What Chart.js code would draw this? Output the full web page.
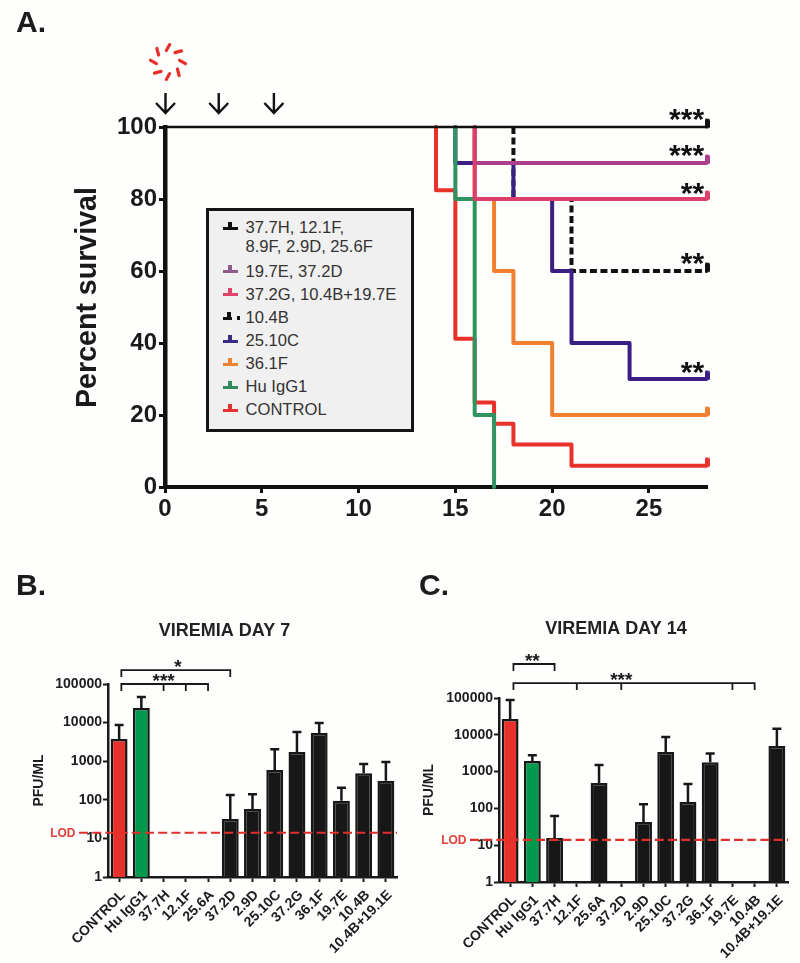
<!DOCTYPE html>
<html>
<head>
<meta charset="utf-8">
<script src="https://cdn.jsdelivr.net/npm/chart.js@4"></script>
<style>
html,body{margin:0;padding:0;background:#fefefc;}
body{width:800px;height:963px;position:relative;overflow:hidden;font-family:"Liberation Sans",Arial,sans-serif;}
canvas{position:absolute;display:block;}
.letter{position:absolute;font:bold 30px/30px "Liberation Sans",Arial,sans-serif;color:#1c1c1c;}
#legend{position:absolute;left:206px;top:208px;width:202px;height:218px;border:3.5px solid #151515;background:#f1f0f1;color:#333;font-size:16.6px;}
#legend .row{position:absolute;left:36.5px;line-height:19px;white-space:nowrap;}
#legend .bar{position:absolute;left:13.5px;width:15px;height:3px;}
#legend .nub{position:absolute;left:19px;width:4px;height:5px;}
#legend .dot{position:absolute;left:28px;width:2.5px;height:3.5px;}
</style>
</head>
<body>
<canvas id="panelA" width="800" height="545" style="left:0;top:0"></canvas>
<canvas id="panelB" width="400" height="363" style="left:0;top:600px"></canvas>
<canvas id="panelC" width="400" height="363" style="left:400px;top:600px"></canvas>
<div class="letter" style="left:16px;top:7px">A.</div>
<div class="letter" style="left:16px;top:570px">B.</div>
<div class="letter" style="left:419px;top:570px">C.</div>
<div id="legend"></div>
<script>
// ---------- Panel A data: [day, percent survival] ----------
const survAllProtected = [[0,100],[28,100]];
const surv197E = [[16,100],[16,90],[28,90]];
const surv372G = [[16,100],[16,80],[28,80]];
const surv104B = [[18,100],[18,80],[21,80],[21,60],[28,60]];
const surv2510C = [[15,100],[15,90],[18,90],[18,80],[20,80],[20,60],[21,60],[21,40],[24,40],[24,30],[28,30]];
const surv361F = [[16,100],[16,80],[17,80],[17,60],[18,60],[18,40],[20,40],[20,20],[28,20]];
const survHuIgG1 = [[15,100],[15,80],[16,80],[16,20],[17,20],[17,0]];
const survControl = [[14,100],[14,82.4],[15,82.4],[15,41.2],[16,41.2],[16,23.5],[17,23.5],[17,17.6],[18,17.6],[18,11.8],[21,11.8],[21,5.9],[28,5.9]];
const treatmentDays = [0, 2.75, 5.6];
const survivalStars = [["***",100],["***",90],["**",79.4],["**",60],["**",29.7]];
const survivalTicksY = [0,20,40,60,80,100];

const legendLabels = [["37.7H, 12.1F,","8.9F, 2.9D, 25.6F"],["19.7E, 37.2D"],["37.2G, 10.4B+19.7E"],["10.4B"],["25.10C"],["36.1F"],["Hu IgG1"],["CONTROL"]];
const legendColors = ["#111111","#8f5a8c","#e0446b","#111111","#3b2a85","#ee8232","#2e8b5c","#e53030"];

// ---------- Panels B / C data ----------
const categoriesB = ["CONTROL","Hu IgG1","37.7H","12.1F","25.6A","37.2D","2.9D","25.10C","37.2G","36.1F","19.7E","10.4B","10.4B+19.1E"];
const valuesB = [3760,23900,null,null,null,32,58,590,1730,5400,94,490,310];
const errorTopB = [8700,46000,null,null,null,133,140,2050,5700,9800,205,850,950];
const categoriesC = ["CONTROL","Hu IgG1","37.7H","12.1F","25.6A","37.2D","2.9D","25.10C","37.2G","36.1F","19.7E","10.4B","10.4B+19.1E"];
const valuesC = [26900,1950,15.7,null,490,null,43,3400,150,1800,null,null,5000];
const errorTopC = [88000,2800,62,null,1500,null,130,8700,460,3100,null,null,14500];
const barColors = ["#e8312a","#009a4e","#171717","#171717","#171717","#171717","#171717","#171717","#171717","#171717","#171717","#171717","#171717"];
const logTicks = [1,10,100,1000,10000,100000];
const lodValue = 14;
const bracketsB = [
  {stars:"***", level:100000, from:0.1, to:4, drops:[2,3], mid:2},
  {stars:"*", level:230000, from:0.1, to:5, drops:[], mid:2.65}
];
const bracketsC = [
  {stars:"**", level:840000, from:0.15, to:2, drops:[], mid:1},
  {stars:"***", level:255000, from:0.15, to:11, drops:[3,5,10], mid:5}
];

Chart.defaults.font.family = '"Liberation Sans", Arial, sans-serif';
Chart.defaults.color = "#1c1c1c";

// ---------- legend (panel A) ----------
(function(){
  const box = document.getElementById("legend");
  const rowTops = [7.5, 51, 74, 97.5, 120.5, 143.5, 166.5, 189.5];
  legendLabels.forEach((lines,i)=>{
    const c = legendColors[i];
    const top = rowTops[i];
    const bar = document.createElement("div");bar.className="bar";bar.style.top=(top+8)+"px";bar.style.background=c;
    const nub = document.createElement("div");nub.className="nub";nub.style.top=(top+3)+"px";nub.style.background=c;
    box.appendChild(bar);box.appendChild(nub);
    if(legendLabels[i][0]==="10.4B"){
      bar.style.width="9.5px";nub.style.left="18px";
      const dot=document.createElement("div");dot.className="dot";dot.style.top=(top+7.5)+"px";dot.style.background=c;box.appendChild(dot);
    }
    lines.forEach((t,j)=>{
      const r=document.createElement("div");r.className="row";r.textContent=t;r.style.top=(top+j*18.5-0.5)+"px";box.appendChild(r);
    });
  });
})();

// censor tick used as the point style on the last point of each curve
function censorTick(color){
  const c=document.createElement("canvas");c.width=5;c.height=18;
  const x=c.getContext("2d");x.fillStyle=color;
  x.beginPath();x.roundRect(0,0.5,5,10,2);x.fill();
  return c;
}
function curve(name,pts,color,width,dash){
  return {
    label:name,
    data:pts.map(p=>({x:p[0],y:p[1]})),
    borderColor:color,borderWidth:width,borderDash:dash||[],
    borderJoinStyle:"round",fill:false,clip:false,tension:0,
    pointStyle:censorTick(color),
    pointRadius:ctx=>(ctx.dataIndex===pts.length-1 && pts[pts.length-1][0]===28)?4:0,
    pointHoverRadius:0
  };
}

const panelADecor = {
  id:"panelADecor",
  afterDraw(chart){
    const c=chart.ctx,xs=chart.scales.x,ys=chart.scales.y;
    c.save();
    // stars
    c.fillStyle="#111";c.font='bold 30px "Liberation Sans", Arial, sans-serif';c.textAlign="right";c.textBaseline="alphabetic";
    survivalStars.forEach(s=>{c.fillText(s[0],xs.getPixelForValue(27.85),ys.getPixelForValue(s[1])+2);});
    // treatment arrows
    c.strokeStyle="#111";c.lineWidth=2.4;c.lineCap="butt";c.lineJoin="miter";
    treatmentDays.forEach(d=>{
      const x=xs.getPixelForValue(d)+0.5,t=ys.getPixelForValue(100);
      c.beginPath();c.moveTo(x,t-34);c.lineTo(x,t-14);
      c.moveTo(x-9.5,t-24);c.lineTo(x,t-14);c.lineTo(x+9.5,t-24);c.stroke();
    });
    // virus burst
    const cx=xs.getPixelForValue(0)+3,cy=ys.getPixelForValue(100)-65;
    c.strokeStyle="#e5302c";c.lineWidth=3.2;c.lineCap="round";
    for(let i=0;i<8;i++){
      const th=(-90+45*i)*Math.PI/180,dir=th+Math.PI/6;
      const mx=cx+14.5*Math.cos(th),my=cy+14.5*Math.sin(th);
      c.beginPath();c.moveTo(mx-3.4*Math.cos(dir),my-3.4*Math.sin(dir));
      c.lineTo(mx+3.4*Math.cos(dir),my+3.4*Math.sin(dir));c.stroke();
    }
    c.restore();
  }
};

new Chart(document.getElementById("panelA"),{
  type:"line",
  data:{datasets:[
    curve("37.7H, 12.1F, 8.9F, 2.9D, 25.6F",survAllProtected,"#111111",2.6),
    curve("37.2G, 10.4B+19.7E",surv372G,"#dc3f69",4),
    curve("19.7E, 37.2D",surv197E,"#ab3f8d",4),
    curve("Hu IgG1",survHuIgG1,"#2e9460",4),
    curve("25.10C",surv2510C,"#3b1f85",4),
    curve("10.4B",surv104B,"#111111",4,[7,3.5]),
    curve("36.1F",surv361F,"#f08030",4),
    curve("CONTROL",survControl,"#e8312a",4)
  ]},
  plugins:[panelADecor],
  options:{
    responsive:false,animation:false,devicePixelRatio:1,events:[],
    layout:{padding:{left:0,top:127,right:93,bottom:0}},
    plugins:{legend:{display:false},tooltip:{enabled:false},title:{display:false}},
    scales:{
      x:{type:"linear",min:0,max:28,
        afterFit(s){s.height=58;},
        grid:{drawOnChartArea:false,tickColor:"#111",tickWidth:3,tickLength:6},
        border:{color:"#111",width:4},
        ticks:{stepSize:5,includeBounds:false,maxRotation:0,padding:2,color:"#1a1a1a",font:{size:24,weight:"bold"}}},
      y:{type:"linear",min:0,max:100,
        afterBuildTicks(s){s.ticks=survivalTicksY.map(v=>({value:v}));},
        afterFit(s){s.width=165;
          if(!s._shifted){s._shifted=true;const o=s.drawTitle;s.drawTitle=function(){const c=s.ctx;c.save();c.translate(0,-9.5);o.call(s);c.restore();};}
        },
        grid:{drawOnChartArea:false,tickColor:"#111",tickWidth:3,tickLength:6},
        border:{color:"#111",width:4.5},
        title:{display:true,text:"Percent survival",color:"#1a1a1a",font:{size:28.6,weight:"bold"},padding:{top:71,bottom:0}},
        ticks:{padding:2,color:"#1a1a1a",font:{size:24,weight:"bold"}}}
    }
  }
});

// ---------- bar panels ----------
function barPanel(id,title,cats,vals,errs,brackets,g){
  const decor={
    id:"decor"+id,
    afterDatasetsDraw(chart){
      const c=chart.ctx,xs=chart.scales.x,ys=chart.scales.y,area=chart.chartArea;
      c.save();
      // error bars
      c.strokeStyle="#171717";c.lineCap="butt";c.lineWidth=2.5;
      errs.forEach((e,i)=>{
        if(e===null)return;
        const x=xs.getPixelForValue(i),t=ys.getPixelForValue(e),b=ys.getPixelForValue(vals[i]);
        c.beginPath();c.moveTo(x,b);c.lineTo(x,t);c.moveTo(x-4.5,t);c.lineTo(x+4.5,t);c.stroke();
      });
      // limit of detection
      const ly=ys.getPixelForValue(lodValue);
      c.strokeStyle="#e0302e";c.lineWidth=2.2;c.setLineDash([9,4.2]);
      c.beginPath();c.moveTo(area.left-g.lodBack,ly);c.lineTo(area.right,ly);c.stroke();c.setLineDash([]);
      c.fillStyle="#e0403a";c.font='bold 12px "Liberation Sans", Arial, sans-serif';c.textAlign="right";c.textBaseline="middle";
      c.fillText("LOD",area.left-g.lodBack-3.5,ly+0.5);
      // significance brackets
      c.strokeStyle="#1a1a1a";c.lineWidth=1.8;
      brackets.forEach(br=>{
        const y=ys.getPixelForValue(br.level),x0=xs.getPixelForValue(br.from),x1=xs.getPixelForValue(br.to);
        c.beginPath();c.moveTo(x0,y+7);c.lineTo(x0,y);c.lineTo(x1,y);c.lineTo(x1,y+7);
        br.drops.forEach(d=>{const xd=xs.getPixelForValue(d);c.moveTo(xd,y);c.lineTo(xd,y+7);});
        c.stroke();
        c.fillStyle="#1a1a1a";c.font='bold 19px "Liberation Sans", Arial, sans-serif';c.textAlign="center";c.textBaseline="alphabetic";
        c.fillText(br.stars,xs.getPixelForValue(br.mid),y+3);
      });
      c.restore();
    }
  };
  new Chart(document.getElementById(id),{
    type:"bar",
    data:{labels:cats,datasets:[{label:title,data:vals,backgroundColor:barColors,borderColor:"#171717",borderWidth:2.5,barPercentage:0.76,categoryPercentage:1}]},
    plugins:[decor],
    options:{
      responsive:false,animation:false,devicePixelRatio:1,events:[],
      layout:{padding:{left:g.padLeft,top:g.padTop,right:400-g.right,bottom:0}},
      plugins:{legend:{display:false},tooltip:{enabled:false},
        title:{display:true,text:title,color:"#222",font:{size:18,weight:"bold"},padding:{top:0,bottom:g.titleGap},fullSize:true}},
      scales:{
        x:{type:"category",offset:true,
          afterFit(s){s.height=363-g.bottom;s.paddingLeft=0;s.paddingRight=0;},
          grid:{drawOnChartArea:false,offset:false,tickColor:"#1a1a1a",tickWidth:2,tickLength:5},
          border:{color:"#1a1a1a",width:2.5},
          ticks:{autoSkip:false,minRotation:45,maxRotation:45,padding:5,labelOffset:4,color:"#1c1c1c",font:{size:14,weight:"bold"}}},
        y:{type:"logarithmic",min:1,max:100000,
          afterBuildTicks(s){s.ticks=logTicks.map(v=>({value:v,major:true}));},
          afterFit(s){s.width=g.left-g.padLeft;},
          grid:{drawOnChartArea:false,tickColor:"#1a1a1a",tickWidth:2,tickLength:5},
          border:{color:"#1a1a1a",width:2.5},
          title:{display:true,text:"PFU/ML",color:"#1c1c1c",font:{size:14,weight:"bold"},padding:{top:g.yTitlePad,bottom:0}},
          ticks:{padding:1,color:"#1c1c1c",font:{size:14,weight:"bold"},callback:v=>String(v)}}
      }
    }
  });
}
barPanel("panelB","VIREMIA DAY 7",categoriesB,valuesB,errorTopB,bracketsB,
  {padLeft:52,padTop:20,left:108,right:397,bottom:277,titleGap:42.4,yTitlePad:-21,lodBack:29});
barPanel("panelC","VIREMIA DAY 14",categoriesC,valuesC,errorTopC,bracketsC,
  {padLeft:44,padTop:18,left:99,right:388,bottom:282,titleGap:58.4,yTitlePad:-23.4,lodBack:29});
</script>
</body>
</html>
